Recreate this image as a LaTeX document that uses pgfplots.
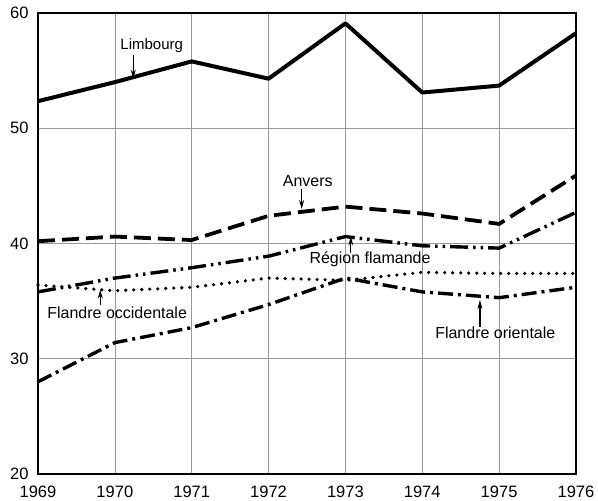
\documentclass[border=0pt]{standalone}
\usepackage{pgfplots}
\pgfplotsset{compat=1.18}
\usepackage{fontspec}
\setmainfont{Liberation Sans}
\usetikzlibrary{arrows.meta}
\begin{document}
\begin{tikzpicture}[x=1pt,y=1pt]
\begin{axis}[
  at={(0pt,0pt)}, anchor=origin,
  scale only axis, width=538pt, height=461pt,
  xmin=1969, xmax=1976, ymin=20, ymax=60,
  xtick={1969,...,1976}, ytick={20,30,40,50,60},
  xticklabel style={/pgf/number format/1000 sep={}},
  /pgf/number format/assume math mode=true,
  tick label style={font=\fontsize{16.5}{18}\selectfont},
  xticklabel style={yshift=-8pt},
  yticklabel style={xshift=-6pt},
  major tick length=0pt,
  grid=major, major grid style={gray!80, line width=0.6pt},
  axis line style={line width=2pt},
  clip=false,
]
% Limbourg
\addplot[black, line width=4pt, line join=round] coordinates {
 (1969,52.35) (1970,54.0) (1971,55.8) (1972,54.3) (1973,59.1) (1974,53.1) (1975,53.7) (1976,58.25)};
% Anvers
\addplot[black, line width=3.8pt, dash pattern=on 17pt off 7pt] coordinates {
 (1969,40.2) (1970,40.6) (1971,40.3) (1972,42.4) (1973,43.2) (1974,42.6) (1975,41.7) (1976,45.9)};
% Region flamande
\addplot[black, line width=3.4pt, dash pattern=on 18pt off 5pt on 2.5pt off 5pt on 2.5pt off 5pt] coordinates {
 (1969,35.8) (1970,37.0) (1971,37.9) (1972,38.9) (1973,40.6) (1974,39.8) (1975,39.6) (1976,42.7)};
% Flandre occidentale
\addplot[black, line width=3.6pt, line cap=round, dash pattern=on 0pt off 8pt] coordinates {
 (1969,36.4) (1970,35.9) (1971,36.2) (1972,37.0) (1973,36.8) (1974,37.5) (1975,37.4) (1976,37.4)};
% Flandre orientale
\addplot[black, line width=3.4pt, dash pattern=on 15pt off 5pt on 3pt off 5pt] coordinates {
 (1969,28.0) (1970,31.4) (1971,32.7) (1972,34.7) (1973,37.0) (1974,35.8) (1975,35.3) (1976,36.2)};
% labels
\tikzset{lbl/.style={font=\fontsize{16}{18}\selectfont, inner sep=1pt},
         arr/.style={-{Stealth[length=9pt,width=5pt]}, line width=1.2pt}}
\node[lbl, font=\fontsize{15}{17}\selectfont] at (axis cs:1970.48,57.2) {Limbourg};
\draw[arr] (axis cs:1970.24,56.35) -- (axis cs:1970.24,54.3);
\node[lbl] at (axis cs:1972.51,45.4) {Anvers};
\draw[arr] (axis cs:1972.43,44.7) -- (axis cs:1972.43,43.0);
\node[lbl] at (axis cs:1973.32,38.65) {Région flamande};
\draw[arr] (axis cs:1973.07,39.2) -- (axis cs:1973.07,40.6);
\node[lbl] at (axis cs:1970.03,33.97) {Flandre occidentale};
\draw[arr] (axis cs:1969.81,34.66) -- (axis cs:1969.81,36.0);
\node[lbl] at (axis cs:1974.95,32.23) {Flandre orientale};
\draw[arr] (axis cs:1974.75,32.75) -- (axis cs:1974.75,35.1);
\end{axis}
\pgfresetboundingbox
\path (-38pt,-27pt) rectangle (560pt,474pt);
\end{tikzpicture}
\end{document}
